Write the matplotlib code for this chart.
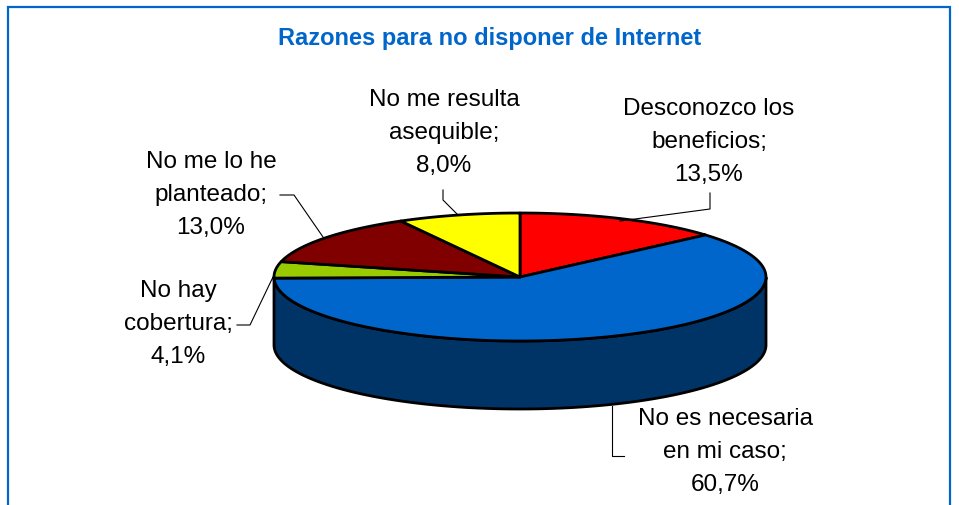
import numpy as np
import matplotlib
matplotlib.use("Agg")
import matplotlib.pyplot as plt

plt.rcParams["font.family"] = ["Liberation Sans", "DejaVu Sans"]

# data
title = "Razones para no disponer de Internet"
categories = ["Desconozco los\nbeneficios;", "No es necesaria\nen mi caso;", "No hay\ncobertura;",
              "No me lo he\nplanteado;", "No me resulta\nasequible;"]
values = [13.5, 60.7, 4.1, 13.0, 8.0]
colors = ["#FF0000", "#0066CC", "#99CC00", "#800000", "#FFFF00"]
side_color = "#003366"
blue = "#0066CC"

# pie geometry in pixels
cx, cy = 520, 277
rx, ry = 246, 64
depth = 68


def rim(t1, t2, n=120):
    t = np.radians(np.linspace(t1, t2, n))
    return cx + rx * np.sin(t), cy - ry * np.cos(t)


fig = plt.figure(figsize=(9.59, 5.05), dpi=100)
ax = fig.add_axes([0, 0, 1, 1])
ax.set_xlim(0, 959)
ax.set_ylim(505, 0)
ax.axis("off")

# chart border, open at the bottom
ax.plot([8, 8, 950, 950], [505, 7, 7, 505], color=blue, lw=1.6, solid_joinstyle="miter")

ax.text(490, 39, title, color=blue, fontsize=17, fontweight="bold", ha="center", va="center")

# side wall
xs, ys = rim(90, 270)
ax.fill(np.r_[xs, xs[::-1]], np.r_[ys, ys[::-1] + depth], color=side_color, ec="black", lw=2, zorder=2)

# slices on top, clockwise from 12 o'clock
angles = np.r_[0, np.cumsum(values)] / sum(values) * 360
for i in range(len(values)):
    xs, ys = rim(angles[i], angles[i + 1])
    ax.fill(np.r_[cx, xs], np.r_[cy, ys], color=colors[i], ec="black", lw=2, zorder=3, joinstyle="round")

# labels
label_pos = [(709, 142), (725, 452), (178, 324), (211, 195), (444, 133)]
for cat, v, (lx, ly) in zip(categories, values, label_pos):
    txt = cat + "\n" + f"{v:.1f}".replace(".", ",") + "%"
    ax.text(lx, ly, txt, fontsize=17.5, ha="center", va="center", linespacing=1.62, color="black", zorder=5)

# leader lines
leaders = [
    ([710, 710, 620], [193, 209, 221]),
    ([612, 612, 624], [406, 456, 456]),
    ([273, 250, 237], [277, 325, 325]),
    ([280, 294, 323], [195, 195, 237]),
    ([443, 443, 458], [190, 200, 215]),
]
for lxs, lys in leaders:
    ax.plot(lxs, lys, color="black", lw=0.8, zorder=4)

fig.savefig("out.png", dpi=100)
